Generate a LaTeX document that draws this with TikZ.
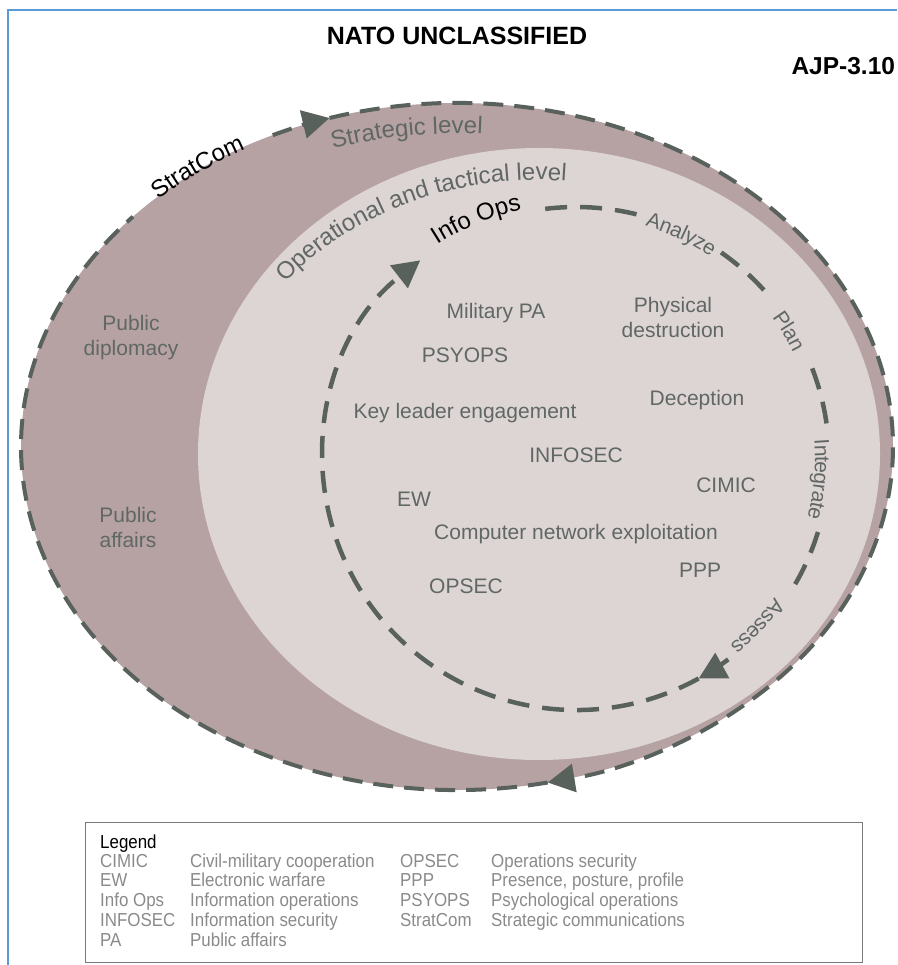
\documentclass[tikz,border=0pt]{standalone}
\usepackage{fontspec}
\setmainfont{Liberation Sans}
\newfontfamily\narrowfont[FakeStretch=0.9]{Liberation Sans}
\usepackage{tikz}
\usetikzlibrary{arrows.meta}
\usetikzlibrary{decorations.text}
\definecolor{bandmauve}{HTML}{B6A2A3}
\definecolor{opspink}{HTML}{DDD5D4}
\definecolor{dashgray}{HTML}{59615D}
\definecolor{labelgray}{HTML}{606765}
\definecolor{legendgray}{HTML}{8A8A8A}
\definecolor{legendframe}{HTML}{7A7A7A}
\definecolor{frameblue}{HTML}{5B9BD5}
\newcommand{\diagfont}{\fontsize{21}{25}\selectfont}
\newcommand{\levelfont}{\fontsize{24}{28}\selectfont}
\newcommand{\legendfont}{\narrowfont\fontsize{18.8}{20}\selectfont}
\tikzset{
% Define standard arrow tip
>={Triangle[length=27pt, width=28pt]},
cycleline/.style={draw=dashgray, line width=4.5pt, dash pattern=on 22pt off 13pt},
stratline/.style={draw=dashgray, line width=4pt, dash pattern=on 20pt off 11pt},
labeltext/.style={text=labelgray, font=\diagfont, inner sep=0, anchor=base},
legendtext/.style={text=legendgray, font=\legendfont, inner sep=0, anchor=base west}
}

\begin{document}
\begin{tikzpicture}[x=1pt, y=1pt]
  \useasboundingbox (0,0) rectangle (897,-965);
  \draw[frameblue, line width=2pt] (8,-965) -- (8,-10) -- (897,-10);

  \node[font=\fontsize{25}{29}\selectfont\bfseries] (classif) at (457,-36) {NATO UNCLASSIFIED};
  \node[font=\fontsize{24.5}{28}\selectfont\bfseries, anchor=west] (docref) at (788,-66) {AJP-3.10};

  \coordinate (strat-c) at (457,-446.5);
  \coordinate (ops-c) at (539,-454);
  \coordinate (cyc-c) at (576,-458.5);

  \fill[bandmauve] (strat-c) ellipse [x radius=436pt, y radius=343.5pt];
  \fill[opspink] (ops-c) ellipse [x radius=341pt, y radius=306pt];

  % StratCom ring
  \draw[stratline, ->] (strat-c) ++(115:436pt and 343.5pt)
    arc[start angle=115, end angle=107, x radius=436pt, y radius=343.5pt];
  \draw[stratline, ->] (strat-c) ++(107:436pt and 343.5pt)
    arc[start angle=107, end angle=-78, x radius=436pt, y radius=343.5pt];
  \draw[stratline] (strat-c) ++(-78:436pt and 343.5pt)
    arc[start angle=-78, end angle=-222, x radius=436pt, y radius=343.5pt];
  \path[decorate, decoration={text along path, text align=center, raise=-3pt,
      text={|\levelfont|StratCom}}]
    (strat-c) ++(147:436pt and 343.5pt)
    arc[start angle=147, end angle=107, x radius=436pt, y radius=343.5pt];
  \path[decorate, decoration={text along path, text align=center, text color=labelgray,
      text={|\levelfont|Strategic level}}]
    (strat-c) ++(125:400pt and 313pt)
    arc[start angle=125, end angle=70, x radius=400pt, y radius=313pt];
  \path[decorate, decoration={text along path, text align=center, text color=labelgray,
      text={|\levelfont|Operational and tactical level}}]
    (ops-c) ++(164:325pt and 274pt)
    arc[start angle=164, end angle=65, x radius=325pt, y radius=274pt];

  % Info Ops cycle
  \draw[cycleline] (cyc-c) ++(97:253pt and 251.5pt)
    arc[start angle=97, end angle=76, x radius=253pt, y radius=251.5pt];
  \draw[cycleline] (cyc-c) ++(55:253pt and 251.5pt)
    arc[start angle=55, end angle=40, x radius=253pt, y radius=251.5pt];
  \draw[cycleline] (cyc-c) ++(21:253pt and 251.5pt)
    arc[start angle=21, end angle=5.5, x radius=253pt, y radius=251.5pt];
  \draw[cycleline] (cyc-c) ++(-17:253pt and 251.5pt)
    arc[start angle=-17, end angle=-32, x radius=253pt, y radius=251.5pt];
  \draw[cycleline, ->] (cyc-c) ++(-53:253pt and 251.5pt)
    arc[start angle=-53, end angle=-61, x radius=253pt, y radius=251.5pt];
  \draw[cycleline, ->] (cyc-c) ++(-61:253pt and 251.5pt)
    arc[start angle=-61, end angle=-232, x radius=253pt, y radius=251.5pt];

  \path[decorate, decoration={text along path, text align=center, raise=3pt,
      text={|\levelfont|Info Ops}}]
    (cyc-c) ++(135:253pt and 251.5pt)
    arc[start angle=135, end angle=90, x radius=253pt, y radius=251.5pt];
  \path[decorate, decoration={text along path, text align=center, raise=-9pt, text color=labelgray,
      text={|\diagfont|Analyze}}]
    (cyc-c) ++(85:253pt and 251.5pt)
    arc[start angle=85, end angle=45, x radius=253pt, y radius=251.5pt];
  \path[decorate, decoration={text along path, text align=center, raise=-11pt, text color=labelgray,
      text={|\diagfont|Plan}}]
    (cyc-c) ++(46:253pt and 251.5pt)
    arc[start angle=46, end angle=16, x radius=253pt, y radius=251.5pt];
  \path[decorate, decoration={text along path, text align=center, raise=-14pt, text color=labelgray,
      text={|\diagfont|Integrate}}]
    (cyc-c) ++(15:253pt and 251.5pt)
    arc[start angle=15, end angle=-25, x radius=253pt, y radius=251.5pt];
  \path[decorate, decoration={text along path, text align=center, raise=-10pt, text color=labelgray,
      text={|\diagfont|Assess}}]
    (cyc-c) ++(-23:253pt and 251.5pt)
    arc[start angle=-23, end angle=-63, x radius=253pt, y radius=251.5pt];

  % activities
  \node[labeltext] (mil-pa) at (496,-318) {Military PA};
  \node[labeltext, anchor=center, align=center] (phys-destr) at (673,-317) {Physical\\destruction};
  \node[labeltext] (psyops) at (465,-362) {PSYOPS};
  \node[labeltext] (kle) at (465,-418) {Key leader engagement};
  \node[labeltext] (deception) at (697,-405) {Deception};
  \node[labeltext] (infosec) at (576,-462) {INFOSEC};
  \node[labeltext] (cimic) at (726,-492) {CIMIC};
  \node[labeltext] (ew) at (414,-506) {EW};
  \node[labeltext] (cne) at (576,-539) {Computer network exploitation};
  \node[labeltext] (ppp) at (700,-577) {PPP};
  \node[labeltext] (opsec) at (466,-593) {OPSEC};
  \node[labeltext, anchor=center, align=center] (pub-dipl) at (131,-338) {Public\\diplomacy};
  \node[labeltext, anchor=center, align=center] (pub-aff) at (128,-527) {Public\\affairs};

  % legend
  \node[draw=legendframe, line width=1.3pt, anchor=north west, inner sep=0,
    minimum width=777pt, minimum height=140pt] (legend) at (85,-822) {};
  \node[legendtext, text=black] (legend-title) at (100,-848) {Legend};
  \node[legendtext] (abbr-cimic) at (100,-867) {CIMIC};
  \node[legendtext] (abbr-ew) at (100,-886) {EW};
  \node[legendtext] (abbr-infoops) at (100,-906) {Info Ops};
  \node[legendtext] (abbr-infosec) at (100,-926) {INFOSEC};
  \node[legendtext] (abbr-pa) at (100,-946) {PA};
  \node[legendtext] (desc-cimic) at (190,-867) {Civil-military cooperation};
  \node[legendtext] (desc-ew) at (190,-886) {Electronic warfare};
  \node[legendtext] (desc-infoops) at (190,-906) {Information operations};
  \node[legendtext] (desc-infosec) at (190,-926) {Information security};
  \node[legendtext] (desc-pa) at (190,-946) {Public affairs};
  \node[legendtext] (abbr-opsec) at (400,-867) {OPSEC};
  \node[legendtext] (abbr-ppp) at (400,-886) {PPP};
  \node[legendtext] (abbr-psyops) at (400,-906) {PSYOPS};
  \node[legendtext] (abbr-stratcom) at (400,-926) {StratCom};
  \node[legendtext] (desc-opsec) at (491,-867) {Operations security};
  \node[legendtext] (desc-ppp) at (491,-886) {Presence, posture, profile};
  \node[legendtext] (desc-psyops) at (491,-906) {Psychological operations};
  \node[legendtext] (desc-stratcom) at (491,-926) {Strategic communications};
\end{tikzpicture}
\end{document}
